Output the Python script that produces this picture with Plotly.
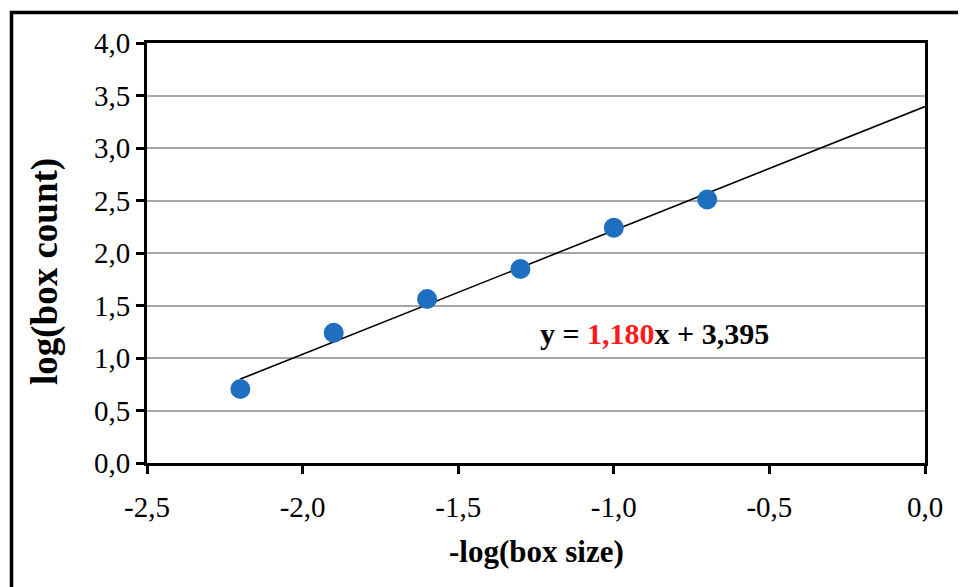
import plotly.graph_objects as go

# data
x_vals = [-2.2, -1.9, -1.6, -1.3, -1.0, -0.7]
y_vals = [0.705, 1.24, 1.562, 1.848, 2.24, 2.51]
slope = 1.180
intercept = 3.395
fit_x = [-2.2, 0.0]
fit_y = [slope * v + intercept for v in fit_x]
x_ticks = [-2.5, -2.0, -1.5, -1.0, -0.5, 0.0]
x_ticktext = ["-2,5", "-2,0", "-1,5", "-1,0", "-0,5", "0,0"]
y_ticks = [0.0, 0.5, 1.0, 1.5, 2.0, 2.5, 3.0, 3.5, 4.0]
y_ticktext = ["0,0", "0,5", "1,0", "1,5", "2,0", "2,5", "3,0", "3,5", "4,0"]

# figure is placed at an 8px offset by the page's body margin
OFF = 8
W, H = 966 - OFF, 587 - OFF
L, R, T, B = 147 - OFF, 41, 43 - OFF, 124
pw, ph = W - L - R, H - T - B

def px(xpage):
    return (xpage - OFF - L) / pw

def py(ypage):
    return (H - B - (ypage - OFF)) / ph

fig = go.Figure()
fig.add_trace(go.Scatter(x=fit_x, y=fit_y, mode="lines",
                         line=dict(color="black", width=1.6), showlegend=False, hoverinfo="skip"))
fig.add_trace(go.Scatter(x=x_vals, y=y_vals, mode="markers",
                         marker=dict(color="#1f6fc0", size=20, line=dict(width=0)), showlegend=False))

font = "Liberation Serif, Times New Roman, serif"
fig.update_layout(
    width=W, height=H,
    margin=dict(l=L, r=R, t=T, b=B),
    paper_bgcolor="white", plot_bgcolor="white",
    font=dict(family=font, size=20, color="black"),
    xaxis=dict(range=[-2.5, 0.0], tickvals=x_ticks, ticktext=x_ticktext,
               showgrid=False, zeroline=False,
               showline=True, linecolor="black", linewidth=3, mirror=True,
               ticks="outside", ticklen=8, tickwidth=3, tickcolor="black",
               ticklabelstandoff=8,
               tickfont=dict(size=29, family=font)),
    yaxis=dict(range=[0.0, 4.0], tickvals=y_ticks, ticktext=y_ticktext,
               showgrid=True, gridcolor="#a6a6a6", gridwidth=1.5, zeroline=False,
               showline=True, linecolor="black", linewidth=3, mirror=True,
               ticks="outside", ticklen=8, tickwidth=3, tickcolor="black",
               tickfont=dict(size=29, family=font)),
    annotations=[
        dict(x=-0.868, y=1.238, xref="x", yref="y", showarrow=False,
             xanchor="center", yanchor="middle",
             text="<b>y = <span style='color:#ff1a1a'>1,180</span>x + 3,395</b>",
             font=dict(size=30, family=font, color="black")),
        dict(x=px(536), y=py(551), xref="paper", yref="paper", showarrow=False,
             xanchor="center", yanchor="middle",
             text="<b>-log(box size)</b>", font=dict(size=31, family=font, color="black")),
        dict(x=px(45), y=py(272), xref="paper", yref="paper", showarrow=False,
             xanchor="center", yanchor="middle", textangle=-90,
             text="<b>log(box count)</b>", font=dict(size=37, family=font, color="black")),
    ],
    shapes=[dict(type="rect", xref="paper", yref="paper",
                 x0=px(11.5), x1=px(975), y0=py(600), y1=py(12.5),
                 line=dict(color="black", width=3.5), fillcolor="rgba(0,0,0,0)", layer="above")],
)
fig.write_html("out.html")
